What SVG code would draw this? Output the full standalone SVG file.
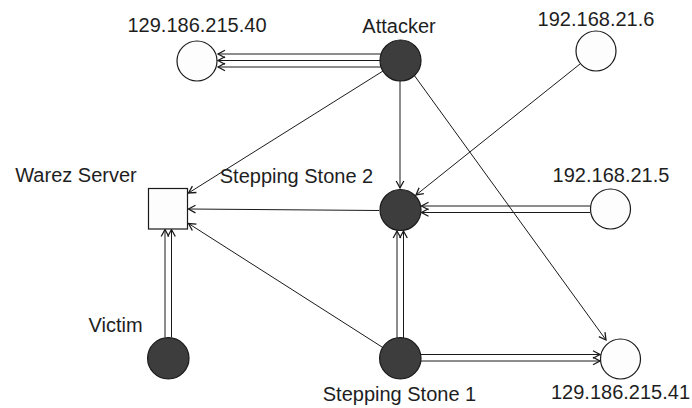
<svg xmlns="http://www.w3.org/2000/svg" width="692" height="408" viewBox="0 0 692 408">
  <style>
    .bg { fill: #ffffff; }
    .host { stroke: #1a1a1a; stroke-width: 1.2; }
    .dark { fill: #3d3d3d; }
    .light { fill: #fdfdfd; }
    .server { fill: #fdfdfd; stroke: #1a1a1a; stroke-width: 1.2; }
    .edge { fill: none; stroke: #1a1a1a; stroke-width: 1; marker-end: url(#arrow); }
    .label { font-family: "Liberation Sans", Arial, sans-serif; font-size: 20px; fill: #1e1e1e; text-anchor: middle; }
  </style>
  <defs>
    <marker id="arrow" markerUnits="userSpaceOnUse" markerWidth="12" markerHeight="12" refX="0" refY="0" viewBox="-9 -6 10 12" orient="auto">
      <path d="M-7,-3.8 L0,0 L-7,3.8" fill="none" stroke="#1a1a1a" stroke-width="1.3"/>
    </marker>
  </defs>

  <rect class="bg" x="0" y="0" width="692" height="408"/>

  <!-- connectors -->
  <g id="connectors">
    <!-- Attacker to 129.186.215.40 (triple link) -->
    <line class="edge" x1="381" y1="54" x2="218" y2="54"/>
    <line class="edge" x1="380" y1="60.5" x2="218" y2="60.5"/>
    <line class="edge" x1="381" y1="67" x2="218" y2="67"/>
    <!-- Attacker to Warez Server -->
    <line class="edge" x1="383" y1="71" x2="188.5" y2="193"/>
    <!-- Attacker to Stepping Stone 2 -->
    <line class="edge" x1="400" y1="81" x2="400" y2="188"/>
    <!-- Attacker to 129.186.215.41 -->
    <line class="edge" x1="414" y1="75" x2="606" y2="340"/>
    <!-- 192.168.21.6 to Stepping Stone 2 -->
    <line class="edge" x1="580" y1="64" x2="416" y2="195"/>
    <!-- Stepping Stone 2 to Warez Server -->
    <line class="edge" x1="379" y1="210.5" x2="188.5" y2="209"/>
    <!-- Stepping Stone 1 to Warez Server -->
    <line class="edge" x1="382" y1="347" x2="188.5" y2="223.5"/>
    <!-- 192.168.21.5 to Stepping Stone 2 (double link) -->
    <line class="edge" x1="590" y1="206" x2="421.5" y2="206"/>
    <line class="edge" x1="590" y1="212.5" x2="421.5" y2="212.5"/>
    <!-- Stepping Stone 1 to Stepping Stone 2 (double link) -->
    <line class="edge" x1="397" y1="338" x2="397" y2="231"/>
    <line class="edge" x1="403.5" y1="338" x2="403.5" y2="231"/>
    <!-- Victim to Warez Server (double link) -->
    <line class="edge" x1="165" y1="337.5" x2="165" y2="229.5"/>
    <line class="edge" x1="171.5" y1="337.5" x2="171.5" y2="229.5"/>
    <!-- Stepping Stone 1 to 129.186.215.41 (double link) -->
    <line class="edge" x1="420.5" y1="354.5" x2="600" y2="354.5"/>
    <line class="edge" x1="420.5" y1="361" x2="600" y2="361"/>
  </g>

  <!-- nodes -->
  <g id="attacker">
    <circle class="host dark" cx="400.5" cy="60.5" r="20.5"/>
    <text class="label" x="399" y="33">Attacker</text>
  </g>
  <g id="ip-129-186-215-40">
    <circle class="host light" cx="197" cy="61" r="20"/>
    <text class="label" x="197" y="32">129.186.215.40</text>
  </g>
  <g id="ip-192-168-21-6">
    <circle class="host light" cx="596" cy="51" r="20"/>
    <text class="label" x="596" y="26">192.168.21.6</text>
  </g>
  <g id="warez-server">
    <rect class="server" x="148.5" y="188.5" width="39" height="40.5"/>
    <text class="label" x="76" y="182">Warez Server</text>
  </g>
  <g id="stepping-stone-2">
    <circle class="host dark" cx="400.5" cy="210" r="20.5"/>
    <text class="label" x="296.5" y="183">Stepping Stone 2</text>
  </g>
  <g id="ip-192-168-21-5">
    <circle class="host light" cx="610.5" cy="209" r="20"/>
    <text class="label" x="611" y="182">192.168.21.5</text>
  </g>
  <g id="victim">
    <circle class="host dark" cx="168.3" cy="358.3" r="20.7"/>
    <text class="label" x="115.5" y="331.5">Victim</text>
  </g>
  <g id="stepping-stone-1">
    <circle class="host dark" cx="400.3" cy="358.3" r="20.7"/>
    <text class="label" x="399.5" y="400.5">Stepping Stone 1</text>
  </g>
  <g id="ip-129-186-215-41">
    <circle class="host light" cx="620.5" cy="359" r="20"/>
    <text class="label" x="620.5" y="398.5">129.186.215.41</text>
  </g>
</svg>
